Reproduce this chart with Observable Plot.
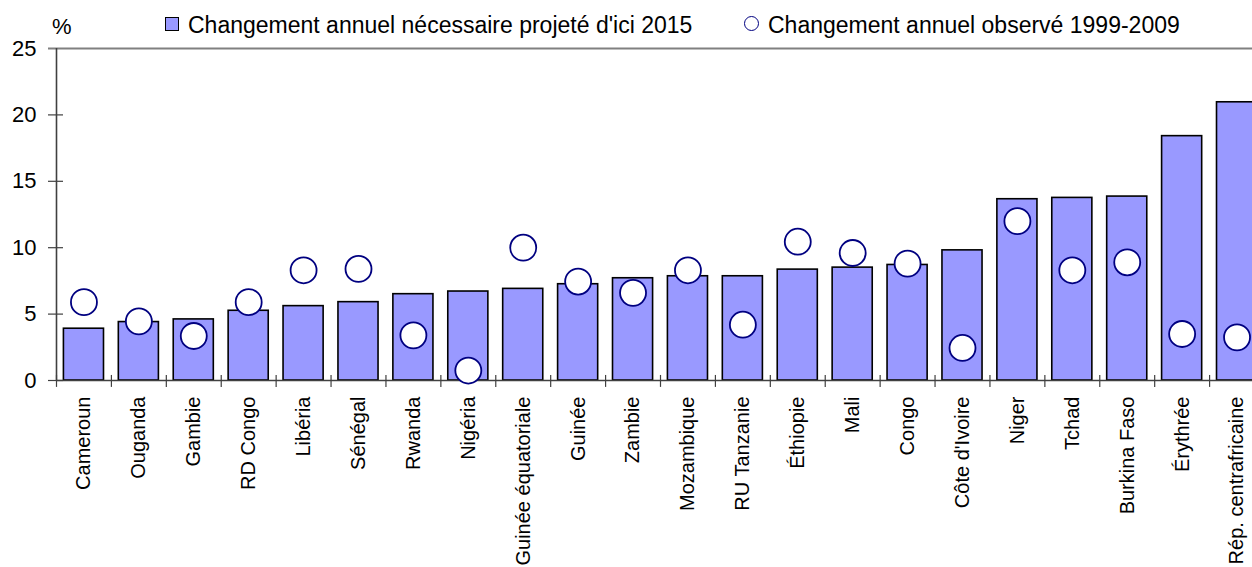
<!DOCTYPE html>
<html>
<head>
<meta charset="utf-8">
<script src="https://cdn.jsdelivr.net/npm/d3@7"></script>
<script src="https://cdn.jsdelivr.net/npm/@observablehq/plot@0.6"></script>
<style>
  body { margin: 0; background: #fff; font-family: "Liberation Sans", Arial, sans-serif; }
  #legend { position: relative; height: 30px; width: 1252px; font-size: 23px; color: #000; }
  #legend span { position: absolute; white-space: nowrap; line-height: 1; }
  #chart svg { display: block; overflow: visible; }
</style>
</head>
<body>
<div id="legend"></div>
<div id="chart"></div>
<script>
const countries = ["Cameroun","Ouganda","Gambie","RD Congo","Libéria","Sénégal","Rwanda","Nigéria","Guinée équatoriale","Guinée","Zambie","Mozambique","RU Tanzanie","Éthiopie","Mali","Congo","Côte d'Ivoire","Niger","Tchad","Burkina Faso","Érythrée","Rép. centrafricaine"];
const required = [3.9, 4.4, 4.6, 5.25, 5.6, 5.9, 6.5, 6.7, 6.9, 7.25, 7.7, 7.85, 7.85, 8.35, 8.5, 8.7, 9.8, 13.65, 13.75, 13.85, 18.4, 20.95];
const observed = [5.9, 4.45, 3.35, 5.9, 8.3, 8.4, 3.4, 0.75, 10.0, 7.45, 6.6, 8.3, 4.2, 10.45, 9.6, 8.8, 2.45, 12.0, 8.3, 8.9, 3.5, 3.25];
const yTicks = [0, 5, 10, 15, 20, 25];
const legendLabels = ["Changement annuel nécessaire projeté d'ici 2015", "Changement annuel observé 1999-2009"];
const unitLabel = "%";

const data = countries.map((c, i) => ({country: c, req: required[i], obs: observed[i]}));

// Legend (HTML, above the SVG)
const legend = document.getElementById("legend");
legend.innerHTML = `
  <span style="left:52px;top:16px;font-size:22px;">${unitLabel}</span>
  <span style="left:165px;top:17px;width:12px;height:12px;background:#9999FF;border:1px solid #000;"></span>
  <span style="left:188px;top:14px;">${legendLabels[0]}</span>
  <span style="left:744px;top:16px;width:13px;height:13px;border:1.5px solid #000080;border-radius:50%;background:#fff;"></span>
  <span style="left:768px;top:14px;">${legendLabels[1]}</span>
`;

const W = 1252, H = 537;
const step = (1264 - 56) / 22;

const chart = Plot.plot({
  width: W,
  height: H,
  marginLeft: 56,
  marginRight: 0,
  marginTop: 18,
  marginBottom: 187,
  style: {fontFamily: "'Liberation Sans', Arial, sans-serif", fontSize: "20px", color: "#000", background: "#fff", overflow: "visible"},
  x: {domain: countries, range: [56, 1264], paddingInner: 0.27, paddingOuter: 0.135, round: false, label: null},
  y: {domain: [0, 25], ticks: yTicks, label: null},
  marks: [
    Plot.barY(data, {x: "country", y: "req", fill: "#9999FF", stroke: "#000", strokeWidth: 1.6}),
    // top border at 25
    Plot.ruleY([25], {stroke: "#808080", strokeWidth: 2, insetLeft: -8}),
    // y ticks crossing the axis
    Plot.ruleY(yTicks.slice(0, 5), {stroke: "#404040", strokeWidth: 1.2, insetLeft: -8, insetRight: W - 56 - 7}),
    // y axis line
    Plot.ruleX([countries[0]], {dx: -step / 2, y1: 0, y2: 25, stroke: "#404040", strokeWidth: 1.6}),
    // x axis baseline
    Plot.ruleY([0], {stroke: "#404040", strokeWidth: 1.6}),
    // category boundary ticks
    Plot.ruleX(countries, {x: d => d, dx: -step / 2, y1: -0.52, y2: 0.38, stroke: "#404040", strokeWidth: 1.2}),
    Plot.dot(data, {x: "country", y: "obs", r: 13, fill: "#fff", stroke: "#000080", strokeWidth: 1.8}),
    Plot.axisY({ticks: yTicks, tickSize: 0, tickPadding: 20, fontSize: 22}),
    Plot.axisX({tickSize: 0, tickRotate: -90, tickPadding: 16, fontSize: 20})
  ]
});
document.getElementById("chart").appendChild(chart);
</script>
</body>
</html>
